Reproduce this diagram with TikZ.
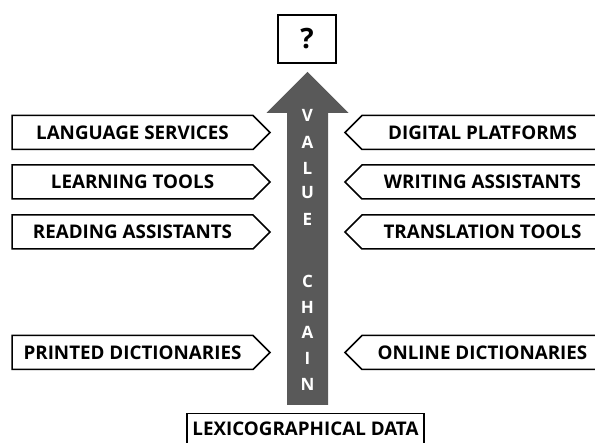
\documentclass[tikz,border=0pt]{standalone}
\usepackage{fontspec}
\setmainfont{Open Sans}
\usetikzlibrary{shapes.symbols}

\begin{document}
\begin{tikzpicture}[x=1pt,y=-1pt,
    txt/.style={font=\bfseries\fontsize{18.8}{22}\selectfont},
    lbox/.style={txt,draw,line width=1.5pt,signal,signal to=east,minimum width=258pt,minimum height=34pt,inner sep=0pt},
    rbox/.style={lbox,signal to=west},
    ltr/.style={font=\bfseries\fontsize{17}{20}\selectfont,text=white,inner sep=0pt}]
      \useasboundingbox (0,0) rectangle (595,443);

      % the value chain arrow
      \fill[black!65] (287,405) -- (287,113) -- (266.5,113) -- (307.5,72) -- (348.5,113) -- (328,113) -- (328,405) -- cycle;
      \node[ltr] (v) at (307.5,115) {V};
      \node[ltr] (a1) at (307.5,142) {A};
      \node[ltr] (l) at (307.5,168) {L};
      \node[ltr] (u) at (307.5,193) {U};
      \node[ltr] (e) at (307.5,219) {E};
      \node[ltr] (c) at (307.5,281) {C};
      \node[ltr] (h) at (307.5,307) {H};
      \node[ltr] (a2) at (307.5,332) {A};
      \node[ltr] (i) at (307.5,358) {I};
      \node[ltr] (n) at (307.5,384) {N};

      \node[draw,line width=1.5pt,minimum width=58pt,minimum height=48pt,font=\bfseries\fontsize{28}{30}\selectfont] (top) at (307,39) {?};
      \node[txt,draw,line width=1.5pt,minimum width=237pt,minimum height=30pt,anchor=north] (lex) at (305.5,413) {LEXICOGRAPHICAL DATA};

      \node[lbox] (lang) at (132.5,132.5) {LANGUAGE SERVICES};
      \node[lbox] (learn) at (132.5,182) {LEARNING TOOLS};
      \node[lbox] (read) at (132.5,232) {READING ASSISTANTS};
      \node[lbox] (print) at (132.5,352.5) {PRINTED DICTIONARIES};

      \node[rbox] (digi) at (482.5,132.5) {DIGITAL PLATFORMS};
      \node[rbox] (write) at (482.5,182) {WRITING ASSISTANTS};
      \node[rbox] (trans) at (482.5,232) {TRANSLATION TOOLS};
      \node[rbox] (online) at (482.5,352.5) {ONLINE DICTIONARIES};
    \end{tikzpicture}
\end{document}
